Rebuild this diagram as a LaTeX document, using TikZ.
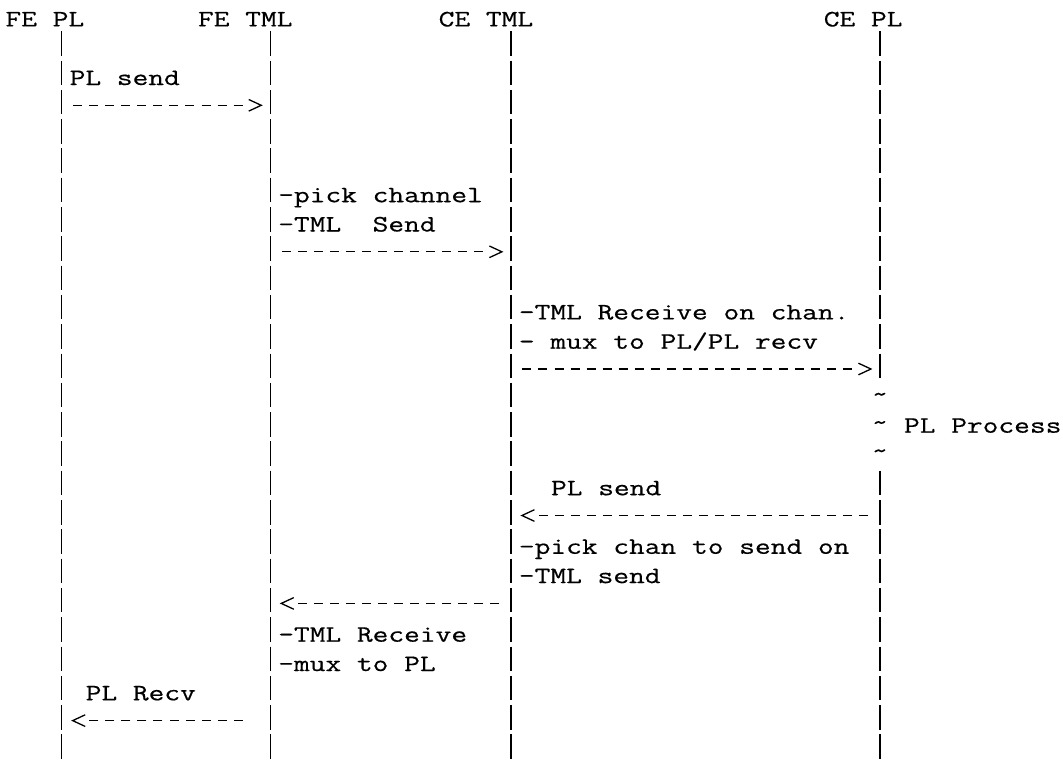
\documentclass[tikz,border=0pt]{standalone}
\usepackage{fontspec}
\newfontfamily\asc[FakeStretch=1.3005,FakeBold=0.5]{Latin Modern Mono}
\usetikzlibrary{arrows.meta}
\pgfdeclarearrow{
  name = Chev,
  setup code = {
    \pgfarrowssettipend{0pt}
    \pgfarrowssetlineend{-14pt}
    \pgfarrowsupperhullpoint{-12.5pt}{5.8pt}
    \pgfarrowsupperhullpoint{0pt}{0pt}
  },
  drawing code = {
    \pgfsetdash{}{0pt}
    \pgfsetmiterjoin
    \pgfpathmoveto{\pgfqpoint{-12.5pt}{5.8pt}}
    \pgfpathlineto{\pgfqpoint{0pt}{0pt}}
    \pgfpathlineto{\pgfqpoint{-12.5pt}{-5.8pt}}
    \pgfusepathqstroke
  }
}
\tikzset{
  txt/.style={font=\asc\fontsize{23.5}{23.5}\selectfont, anchor=base west, inner sep=0pt, outer sep=0pt, text=black},
  life/.style={line width=1.3pt, dash pattern=on 24.5pt off 4.8pt},
  msg/.style={line width=1.3pt, dash pattern=on 9pt off 7.045pt, -{Chev}},
  tld/.style={font=\asc\fontsize{24}{24}\selectfont, anchor=base, inner sep=0pt, outer sep=0pt},
}
\begin{document}
\begin{tikzpicture}[x=16.045pt, y=-29.3pt]
\fill[white] (-0.3428,0.099) rectangle (65.908,26.106);
\useasboundingbox (-0.3428,0.099) rectangle (65.908,26.106);
% headers
\node[txt] (fepl)  at (0,1)  {FE PL};
\node[txt] (fetml) at (12,1) {FE TML};
\node[txt] (cetml) at (27,1) {CE TML};
\node[txt] (cepl)  at (51,1) {CE PL};
% lifelines
\coordinate (fepl-t)  at (3.5,1.164);  \coordinate (fepl-b)  at (3.5,26.106);
\coordinate (fetml-t) at (16.5,1.164); \coordinate (fetml-b) at (16.5,26.106);
\coordinate (cetml-t) at (31.5,1.164); \coordinate (cetml-b) at (31.5,26.106);
\coordinate (cepl-t)  at (54.5,1.164); \coordinate (cepl-m1) at (54.5,13.0);
\coordinate (cepl-m2) at (54.5,16.164); \coordinate (cepl-b) at (54.5,26.106);
\draw[life] (fepl-t) -- (fepl-b);
\draw[life] (fetml-t) -- (fetml-b);
\draw[life] (cetml-t) -- (cetml-b);
\draw[life] (cepl-t) -- (cepl-m1);
\draw[life] (cepl-m2) -- (cepl-b);
% tildes and PL Process
\node[tld] (tl1) at (54.5,13.805) {\textasciitilde};
\node[tld] (tl2) at (54.5,14.77) {\textasciitilde};
\node[tld] (tl3) at (54.5,15.735) {\textasciitilde};
\node[txt] (proc) at (56,14.867) {PL Process};
% labels
\node[txt] (l3)  at (4,3)   {PL send};
\node[txt] (l7)  at (17,7)  {-pick channel};
\node[txt] (l8)  at (17,8)  {-TML\ \ Send};
\node[txt] (l11) at (32,11) {-TML Receive on chan.};
\node[txt] (l12) at (32,12) {- mux to PL/PL recv};
\node[txt] (l17) at (34,17) {PL send};
\node[txt] (l19) at (32,19) {-pick chan to send on};
\node[txt] (l20) at (32,20) {-TML send};
\node[txt] (l22) at (17,22) {-TML Receive};
\node[txt] (l23) at (17,23) {-mux to PL};
\node[txt] (l24) at (5,24)  {PL Recv};
% messages
\coordinate (m1s) at (4.218,3.693);   \coordinate (m1e) at (15.938,3.693);
\coordinate (m2s) at (17.218,8.693);  \coordinate (m2e) at (30.938,8.693);
\coordinate (m3s) at (32.218,12.693); \coordinate (m3e) at (53.938,12.693);
\coordinate (m4s) at (53.782,17.693); \coordinate (m4e) at (32.187,17.693);
\coordinate (m5s) at (30.782,20.693); \coordinate (m5e) at (17.187,20.693);
\coordinate (m6s) at (14.782,24.693); \coordinate (m6e) at (4.187,24.693);
\draw[msg] (m1s) -- (m1e);
\draw[msg] (m2s) -- (m2e);
\draw[msg] (m3s) -- (m3e);
\draw[msg] (m4s) -- (m4e);
\draw[msg] (m5s) -- (m5e);
\draw[msg] (m6s) -- (m6e);
\end{tikzpicture}
\end{document}
